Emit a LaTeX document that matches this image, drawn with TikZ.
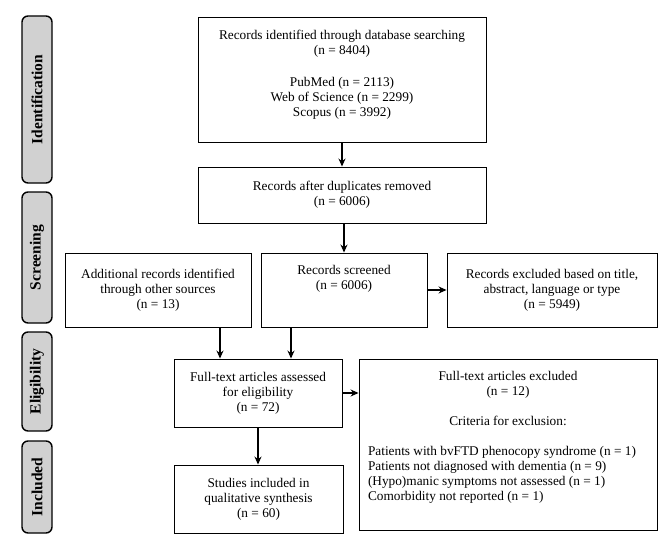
\documentclass[tikz,border=0pt]{standalone}
\usepackage{fontspec}
\setmainfont{Liberation Serif}
\usetikzlibrary{arrows.meta}
\tikzset{
  box/.style={draw,line width=0.9pt,inner sep=0pt,align=center,font=\fontsize{13.3}{14.8}\selectfont},
  stage/.style={draw,line width=1.4pt,rounded corners=6pt,fill=black!18,minimum height=30pt,
    inner sep=0pt,rotate=90,font=\fontsize{15.5}{18}\selectfont\bfseries},
  arr/.style={-{Stealth[length=8pt,width=7pt]},line width=1.3pt}
}
\begin{document}
\begin{tikzpicture}[x=1pt,y=-1pt]
    \useasboundingbox (0,0) rectangle (672,543);
    \node[stage,minimum width=167pt] (sid) at (37,99.5) {Identification};
    \node[stage,minimum width=131pt] (ssc) at (37,257.5) {Screening};
    \node[stage,minimum width=99pt] (sel) at (37,381.5) {Eligibility};
    \node[stage,minimum width=92pt] (sin) at (37,487) {Included};
    \node[box] (ident) at (342,79.5) {\parbox[c][125pt][t]{288pt}{\centering\vspace*{13pt}%
        Records identified through database searching\\ (n = 8404)\\[18pt]
        PubMed (n = 2113)\\ Web of Science (n = 2299)\\ Scopus (n = 3992)}};
    \node[box,minimum width=288pt,minimum height=56pt] (dup) at (342,195)
        {Records after duplicates removed\\ (n = 6006)};
    \node[box,minimum width=186pt,minimum height=74pt] (add) at (158,290)
        {Additional records identified\\ through other sources\\ (n = 13)};
    \node[box] (scr) at (344,290) {\parbox[c][74pt][t]{166pt}{\centering\vspace*{12pt}%
        Records screened\\ (n = 6006)}};
    \node[box,minimum width=210pt,minimum height=74pt] (exc) at (552,290)
        {Records excluded based on title,\\ abstract, language or type\\ (n = 5949)};
    \node[box,minimum width=168pt,minimum height=68pt] (ft) at (258,393)
        {Full-text articles assessed\\ for eligibility\\ (n = 72)};
    \node[box] (exft) at (508,444.5) {\parbox[c][171pt][t]{298pt}{\centering\vspace*{12pt}%
        Full-text articles excluded\\ (n = 12)\\[16pt] Criteria for exclusion:\par
        \vspace{15pt}\raggedright\setlength{\leftskip}{9pt}%
        Patients with bvFTD phenocopy syndrome (n = 1)\\
        Patients not diagnosed with dementia (n = 9)\\
        (Hypo)manic symptoms not assessed (n = 1)\\
        Comorbidity not reported (n = 1)}};
    \node[box,minimum width=169pt,minimum height=68pt] (inc) at (258.5,499)
        {Studies included in\\ qualitative synthesis\\ (n = 60)};
    \draw[arr] (ident.south) -- (dup.south |- ident.south) -- (dup.north);
    \draw[arr] (scr.north |- dup.south) -- (scr.north);
    \draw[arr] (scr.east) -- (exc.west);
    \draw[arr] ([xshift=62pt]add.south) -- ([xshift=62pt]add.south |- ft.north);
    \draw[arr] ([xshift=-53pt]scr.south) -- ([xshift=-53pt]scr.south |- ft.north);
    \draw[arr] (ft.east) -- (ft.east -| exft.west);
    \draw[arr] (ft.south) -- (ft.south |- inc.north);
\end{tikzpicture}
\end{document}
